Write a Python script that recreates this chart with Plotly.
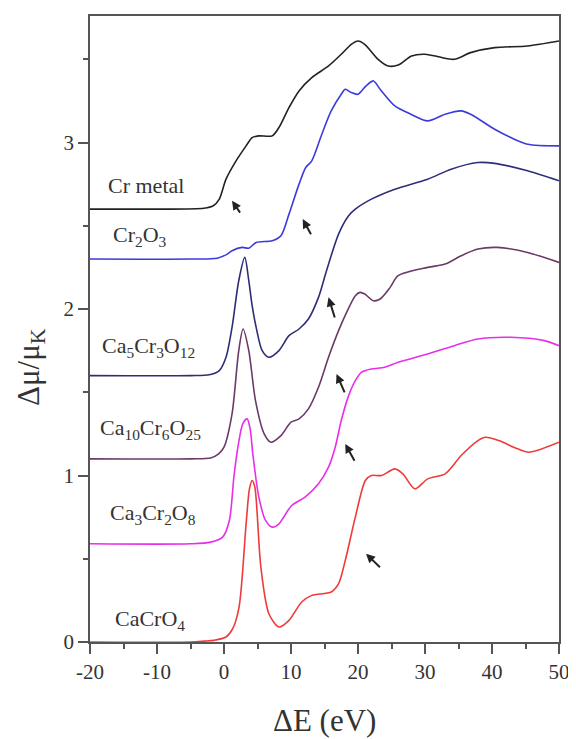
import plotly.graph_objects as go

# ---- data (energies in eV, offset absorbance) ----
cr_metal_E = [-20, -10, -3, -1.6, -0.7, 0.3, 1.8, 3.3, 4.2, 5.2, 7.2, 8.2, 9.7, 11.2, 13.1, 15.6, 17.5, 19, 20, 21, 23, 24.5, 26, 28, 30, 32, 34.4, 36.8, 40.4, 45.3, 50]
cr_metal_y = [2.60, 2.60, 2.605, 2.62, 2.66, 2.78, 2.89, 2.98, 3.03, 3.04, 3.04, 3.09, 3.21, 3.31, 3.39, 3.46, 3.53, 3.59, 3.61, 3.59, 3.50, 3.46, 3.465, 3.52, 3.53, 3.515, 3.50, 3.54, 3.57, 3.58, 3.61]

cr2o3_E = [-20, -5, -1, 0.5, 1.2, 2.7, 3.7, 4.8, 7.2, 8.5, 9.7, 11.2, 12.2, 13.1, 14.6, 16, 17.5, 18.1, 19, 20, 21.2, 22.3, 23.3, 25.5, 27.9, 30.4, 33, 35.4, 36.8, 40.4, 42.8, 45.3, 50]
cr2o3_y = [2.30, 2.30, 2.305, 2.33, 2.35, 2.37, 2.365, 2.40, 2.41, 2.44, 2.57, 2.75, 2.85, 2.89, 3.05, 3.19, 3.29, 3.32, 3.30, 3.29, 3.34, 3.37, 3.32, 3.22, 3.17, 3.13, 3.17, 3.19, 3.17, 3.08, 3.03, 2.99, 2.98]

ca5_E = [-20, -5, -2.2, -0.7, 0.3, 1.2, 2.2, 3.1, 3.7, 4.2, 4.8, 5.7, 6.7, 8.2, 9.7, 11.2, 12.6, 14.1, 15.3, 17.1, 18.6, 19.6, 22, 25.5, 30.4, 33.9, 37.9, 40.4, 45.3, 50]
ca5_y = [1.60, 1.60, 1.605, 1.63, 1.71, 1.89, 2.17, 2.31, 2.17, 2.02, 1.89, 1.75, 1.71, 1.75, 1.84, 1.88, 1.94, 2.07, 2.23, 2.45, 2.56, 2.60, 2.66, 2.72, 2.78, 2.84, 2.88, 2.875, 2.83, 2.77]

ca10_E = [-20, -5, -2, -0.8, 0, 1.2, 2.2, 2.85, 3.7, 4.7, 6, 7, 8.5, 10, 11.2, 12.6, 14.1, 15.6, 17.1, 18.3, 19.6, 20.3, 21, 22.3, 23.3, 24.8, 26, 30.4, 33, 35.4, 37.9, 40.8, 45.3, 50]
ca10_y = [1.10, 1.10, 1.105, 1.13, 1.17, 1.37, 1.75, 1.88, 1.75, 1.45, 1.25, 1.20, 1.24, 1.32, 1.34, 1.40, 1.53, 1.71, 1.87, 1.98, 2.08, 2.10, 2.09, 2.05, 2.06, 2.13, 2.20, 2.25, 2.27, 2.32, 2.36, 2.37, 2.34, 2.28]

ca3_E = [-20, -5, -2, -0.2, 0.8, 1.5, 2.2, 2.8, 3.45, 3.9, 4.3, 5.2, 6.2, 7.2, 8.2, 10.1, 12.1, 14.1, 15.6, 16.6, 17.5, 18.6, 19.6, 20.5, 22, 24, 26, 30.4, 34.4, 37.9, 42.8, 47.8, 50]
ca3_y = [0.59, 0.59, 0.60, 0.63, 0.73, 1.00, 1.20, 1.31, 1.34, 1.28, 1.13, 0.87, 0.73, 0.69, 0.71, 0.82, 0.87, 0.95, 1.05, 1.17, 1.33, 1.48, 1.57, 1.62, 1.64, 1.65, 1.68, 1.73, 1.78, 1.82, 1.83, 1.81, 1.78]

cacro4_E = [-20, -5, -3, -1.5, 0.3, 1.3, 2.25, 3.3, 3.8, 4.2, 4.6, 5.5, 6.7, 8.2, 9.7, 11.6, 13.1, 16, 17.1, 18.1, 19.6, 21.1, 22, 23.5, 25.5, 26.7, 28.5, 30.4, 33, 35.4, 37.9, 39, 41, 43.8, 45.5, 50]
cacro4_y = [0.0, 0.0, 0.005, 0.01, 0.03, 0.08, 0.21, 0.71, 0.92, 0.97, 0.93, 0.45, 0.17, 0.09, 0.13, 0.24, 0.28, 0.30, 0.35, 0.49, 0.75, 0.97, 1.00, 1.00, 1.04, 1.01, 0.92, 0.98, 1.01, 1.12, 1.21, 1.23, 1.21, 1.16, 1.14, 1.20]

series_names = ["Cr metal", "Cr<sub>2</sub>O<sub>3</sub>", "Ca<sub>5</sub>Cr<sub>3</sub>O<sub>12</sub>",
                "Ca<sub>10</sub>Cr<sub>6</sub>O<sub>25</sub>", "Ca<sub>3</sub>Cr<sub>2</sub>O<sub>8</sub>", "CaCrO<sub>4</sub>"]
series_E = [cr_metal_E, cr2o3_E, ca5_E, ca10_E, ca3_E, cacro4_E]
series_y = [cr_metal_y, cr2o3_y, ca5_y, ca10_y, ca3_y, cacro4_y]
colors = ["#222222", "#3b3bdc", "#2e2e78", "#6a3a68", "#e82ee8", "#f03a3a"]

# label anchor positions (data coords, left-anchored)
label_x = [-17.6, -16.8, -18.5, -18.8, -17.3, -16.5]
label_y = [2.74, 2.44, 1.77, 1.28, 0.77, 0.13]

# arrows: head (x, y) and tail (ax, ay)
arrow_head_x = [1.2, 11.75, 15.6, 16.8, 18.1, 21.2]
arrow_head_y = [2.65, 2.54, 2.07, 1.61, 1.19, 0.53]
arrow_tail_x = [2.55, 13.1, 16.6, 18.1, 19.6, 23.5]
arrow_tail_y = [2.57, 2.44, 1.94, 1.49, 1.08, 0.44]

x_ticks = [-20, -10, 0, 10, 20, 30, 40, 50]
x_tick_text = ["-20", "-10", "0", "10", "20", "30", "40", "50"]
y_ticks = [0, 1, 2, 3]
y_tick_text = ["0", "1", "2", "3"]

FONT = "Liberation Serif, Times New Roman, serif"

fig = go.Figure()
for E, y, c, n in zip(series_E, series_y, colors, series_names):
    fig.add_trace(go.Scatter(x=E, y=y, mode="lines", name=n,
                             line=dict(color=c, width=1.6, shape="spline", smoothing=0.8),
                             showlegend=False))

annotations = []
for n, lx, ly in zip(series_names, label_x, label_y):
    annotations.append(dict(x=lx, y=ly, xref="x", yref="y", text=n, showarrow=False,
                            xanchor="left", yanchor="middle",
                            font=dict(family=FONT, size=22, color="#333333")))
for hx, hy, tx, ty in zip(arrow_head_x, arrow_head_y, arrow_tail_x, arrow_tail_y):
    annotations.append(dict(x=hx, y=hy, ax=tx, ay=ty, xref="x", yref="y", axref="x", ayref="y",
                            text="", showarrow=True, arrowhead=2, arrowsize=0.9,
                            arrowwidth=2, arrowcolor="#222222"))
annotations.append(dict(x=0.5, y=-0.126, xref="paper", yref="paper", text="ΔE (eV)",
                        showarrow=False, xanchor="center", yanchor="middle",
                        font=dict(family=FONT, size=31, color="#333333")))
annotations.append(dict(x=-0.127, y=0.44, xref="paper", yref="paper", text="Δμ/μ<sub>K</sub>",
                        showarrow=False, xanchor="center", yanchor="middle", textangle=-90,
                        font=dict(family=FONT, size=31, color="#333333")))

axis_common = dict(showline=True, linecolor="#555555", linewidth=1.5, mirror=True,
                   ticks="outside", ticklen=10, tickwidth=1.5, tickcolor="#555555",
                   showgrid=False, zeroline=False,
                   tickfont=dict(family=FONT, size=21, color="#333333"))

# the page body adds an 8px margin, so the figure is sized/positioned to compensate
fig.update_layout(
    width=568, height=731,
    margin=dict(l=82, r=14, t=6, b=97),
    paper_bgcolor="white", plot_bgcolor="white",
    xaxis=dict(range=[-20, 50], tickvals=x_ticks, ticktext=x_tick_text,
               minor=dict(dtick=5, ticks="outside", ticklen=5, tickwidth=1.5, tickcolor="#555555"),
               **axis_common),
    yaxis=dict(range=[0, 3.76], tickvals=y_ticks, ticktext=y_tick_text,
               minor=dict(dtick=0.5, ticks="outside", ticklen=5, tickwidth=1.5, tickcolor="#555555"),
               **axis_common),
    annotations=annotations,
)

fig.write_html("out.html")
